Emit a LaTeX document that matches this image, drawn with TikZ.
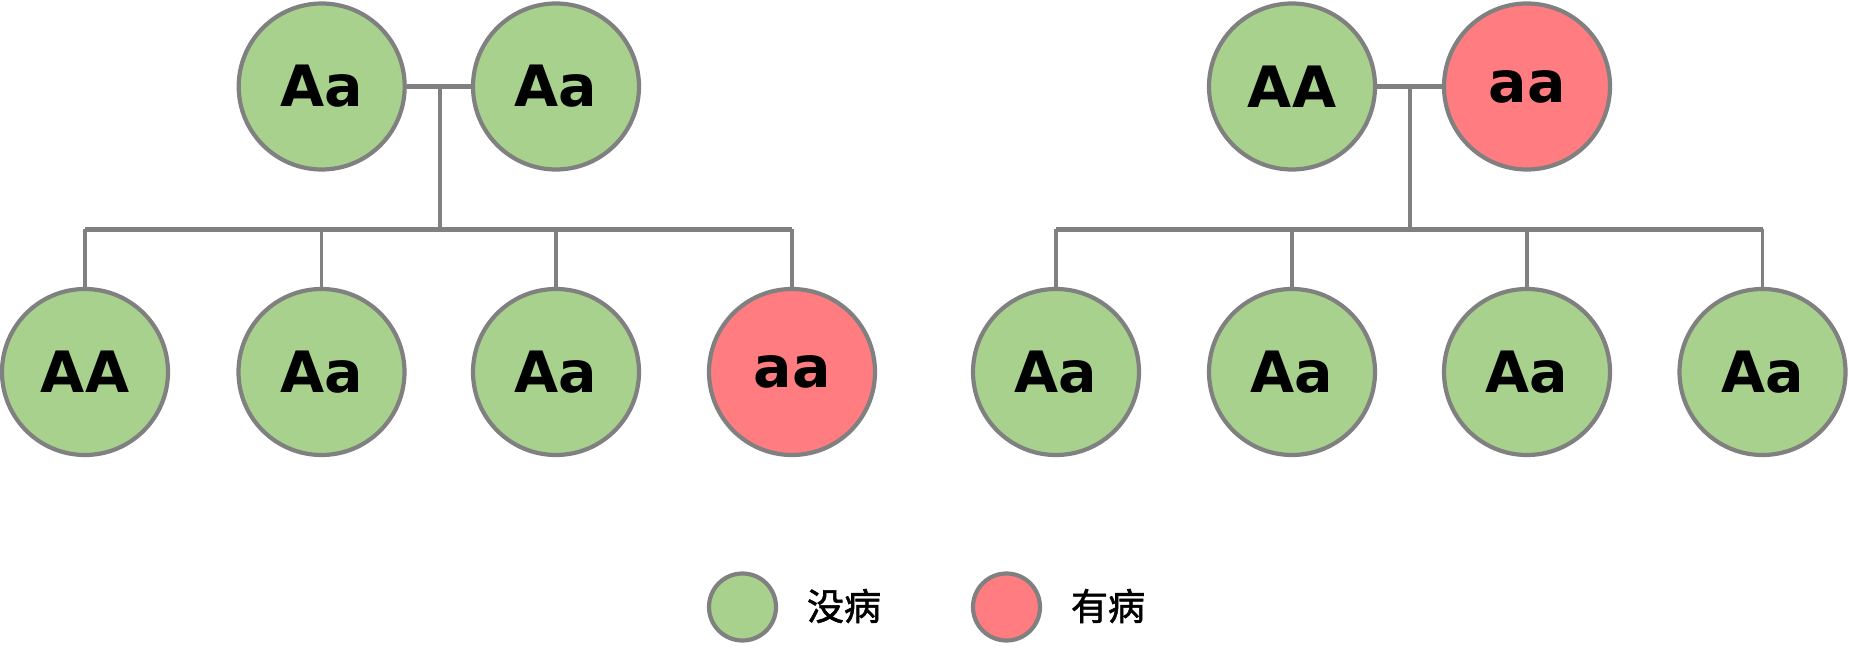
\documentclass[tikz,border=0pt]{standalone}
\usepackage{fontspec}
\setmainfont{DejaVu Sans}
\newfontfamily\cjk{Noto Sans CJK SC}[FakeBold=1.6]
\definecolor{okgreen}{HTML}{A9D18E}
\definecolor{sickred}{HTML}{FF7C80}
\definecolor{edgegray}{HTML}{808080}
\begin{document}
\begin{tikzpicture}[x=1pt,y=-1pt,
  person/.style={circle,draw=edgegray,line width=4.2pt,minimum size=166pt,inner sep=0pt,
    font=\fontsize{57}{57}\selectfont\bfseries},
  well/.style={person,fill=okgreen},
  sick/.style={person,fill=sickred},
  legdot/.style={circle,draw=edgegray,line width=4.2pt,minimum size=67pt,inner sep=0pt},
  legtext/.style={font=\cjk\fontsize{37}{37}\selectfont,anchor=center},
  link/.style={draw=edgegray,line width=4.2pt},
  drop/.style={draw=edgegray,line width=3.8pt}]
\useasboundingbox (0,0) rectangle (1849,652);
% left family
\node[well] (L1) at (321.7,86.5) {Aa};
\node[well] (L2) at (556,86.5) {Aa};
\node[well] (La) at (85,372) {AA};
\node[well] (Lb) at (321.5,372) {Aa};
\node[well] (Lc) at (556,372) {Aa};
\node[sick] (Ld) at (792,372) {aa};
\draw[link] (L1.east) -- (L2.west);
\coordinate (Lm) at (440,86.7);
\coordinate (Lbar) at (440,229.5);
\coordinate (Lbl) at (La.north |- Lbar);
\coordinate (Lbr) at (Ld.north |- Lbar);
\draw[link] (Lm) -- (Lbar);
\draw[link] (Lbl) -- (Lbr);
\foreach \c in {La,Lb,Lc,Ld}{\draw[drop] (\c.north |- Lbar) -- (\c.north);}
% right family
\node[well] (R1) at (1292,86.5) {AA};
\node[sick] (R2) at (1527,86.5) {aa};
\node[well] (Ra) at (1056,372) {Aa};
\node[well] (Rb) at (1292,372) {Aa};
\node[well] (Rc) at (1527,372) {Aa};
\node[well] (Rd) at (1762.5,372) {Aa};
\draw[link] (R1.east) -- (R2.west);
\coordinate (Rm) at (1410,86.7);
\coordinate (Rbar) at (1410,229.5);
\coordinate (Rbl) at (Ra.north |- Rbar);
\coordinate (Rbr) at (Rd.north |- Rbar);
\draw[link] (Rm) -- (Rbar);
\draw[link] (Rbl) -- (Rbr);
\foreach \c in {Ra,Rb,Rc,Rd}{\draw[drop] (\c.north |- Rbar) -- (\c.north);}
% legend
\node[legdot,fill=okgreen] (G) at (742.5,607) {};
\node[legtext] (Gt) at (844,606) {没病};
\node[legdot,fill=sickred] (S) at (1006.5,607) {};
\node[legtext] (St) at (1108,606) {有病};
\end{tikzpicture}
\end{document}
